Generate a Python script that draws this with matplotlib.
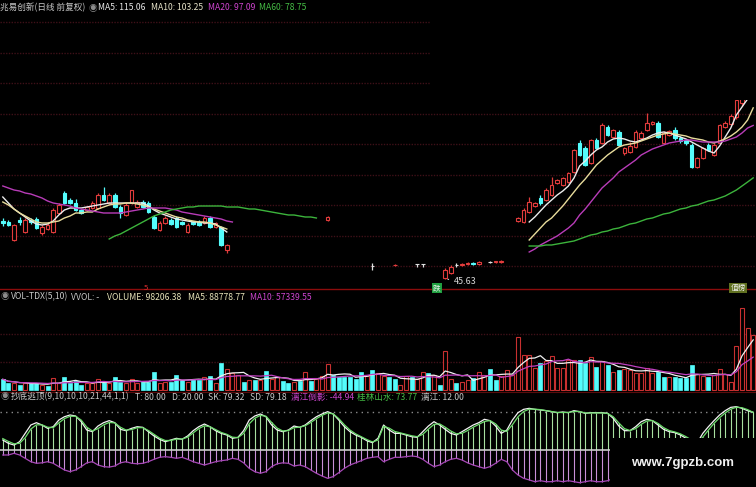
import numpy as np
import pandas as pd
import matplotlib
matplotlib.use('Agg')
import matplotlib.pyplot as plt
from matplotlib.patches import Rectangle
from matplotlib.lines import Line2D

nan = float('nan')
W, H = 756, 487

# ---------------- price data (index 0..134) ----------------
OPEN = ([63.65, 63.3, 57.0, 64.0, 59.8, 64.0, 64.35, 59.45, 60.85, 59.8, 66.45, 73.45, 71.0, 69.95, 67.5,
         67.5, 68.2, 68.2, 72.75, 69.95, 72.75, 68.55, 65.75, 69.95, 68.55, 70.3, 69.95, 65.05, 60.5, 62.95,
         64.0, 64.7, 63.3, 59.8, 63.3, 63.3, 62.95, 64.7, 61.55, 61.55, 53.5]
        + [nan] * 17 + [64.0] + [nan] * 7 + [47.9] + [nan] * 3 + [48.1] + [nan] * 3 + [48.6, 48.6]
        + [nan] * 3 + [43.7, 45.45, 48.25, 48.25, 48.6, 48.95, 48.6] + [nan] + [49.3, 49.3, 49.3] + [nan] * 2
        + [63.65, 63.3, 66.8, 68.9, 71.7, 71.0, 72.75, 76.95, 76.25, 77.3, 80.8, 90.95, 89.2, 83.95, 92.0,
           90.95, 96.55, 93.05, 94.8, 87.45, 87.8, 89.55, 92.7, 95.5, 97.6, 97.95, 90.95, 93.75, 95.5, 92.7,
           92.0, 90.25, 82.55, 85.7, 90.25, 86.75, 90.95, 96.55, 97.6, 100.0, 105.0, 111.0, 115.0])
CLOSE = ([62.95, 62.25, 62.25, 63.3, 64.0, 63.3, 61.2, 61.55, 62.25, 67.5, 69.25, 69.95, 69.95, 67.5, 66.45,
          68.55, 69.95, 72.75, 71.0, 72.75, 68.55, 66.45, 69.25, 74.5, 70.3, 68.55, 66.8, 61.2, 62.95, 64.7,
          62.6, 61.55, 62.6, 62.25, 62.6, 62.25, 64.7, 61.55, 62.95, 55.25, 55.25]
         + [nan] * 17 + [65.05] + [nan] * 7 + [47.9] + [nan] * 3 + [48.4] + [nan] * 3 + [48.6, 48.6]
         + [nan] * 3 + [46.5, 47.55, 48.25, 48.6, 48.95, 48.6, 49.3] + [nan] + [49.3, 49.65, 49.65] + [nan] * 2
         + [64.7, 67.5, 70.3, 69.95, 69.95, 74.5, 76.25, 78.0, 78.7, 80.45, 88.5, 86.75, 83.25, 92.0, 89.2,
            97.25, 93.75, 95.5, 90.25, 89.2, 89.9, 94.8, 94.45, 97.95, 98.3, 93.05, 94.45, 95.15, 92.7, 91.65,
            90.95, 82.55, 85.7, 89.2, 88.5, 90.25, 97.25, 97.95, 100.4, 106.0, 112.0, 117.0, 121.0])
HIGH = ([64.7, 64.0, 62.6, 65.05, 64.7, 64.7, 65.05, 62.25, 62.95, 68.2, 69.95, 74.15, 71.7, 71.35, 67.85,
         68.9, 70.65, 73.45, 75.55, 73.45, 73.45, 69.25, 69.95, 74.5, 71.0, 71.0, 70.65, 65.75, 63.65, 65.4,
         64.7, 65.4, 63.65, 62.95, 63.65, 64.0, 65.4, 65.4, 63.3, 61.9, 55.6]
        + [nan] * 17 + [65.4] + [nan] * 7 + [48.95] + [nan] * 3 + [48.6] + [nan] * 3 + [48.6, 48.6]
        + [nan] * 3 + [47.2, 48.25, 48.95, 48.95, 49.3, 49.3, 49.65] + [nan] + [49.65, 49.8, 50.0] + [nan] * 2
        + [65.05, 68.2, 72.05, 70.3, 72.75, 75.2, 79.05, 78.35, 79.05, 80.8, 88.85, 92.0, 89.9, 92.35, 92.7,
           97.95, 97.25, 95.85, 95.5, 89.55, 91.3, 95.5, 95.15, 101.45, 98.65, 98.65, 95.15, 95.5, 96.55, 93.4,
           92.35, 90.95, 86.05, 89.55, 90.95, 90.95, 97.6, 98.65, 101.0, 107.0, 114.0, 119.0, 124.0])
LOW = ([61.9, 61.9, 56.65, 62.25, 59.45, 62.6, 60.85, 58.75, 60.5, 59.45, 66.1, 69.6, 69.6, 67.15, 66.1,
        67.15, 67.85, 67.85, 70.65, 69.6, 68.2, 64.7, 65.4, 69.6, 68.2, 68.2, 66.45, 60.85, 60.15, 62.6,
        62.25, 61.2, 62.25, 59.45, 62.25, 61.9, 62.6, 61.2, 61.2, 54.9, 52.45]
       + [nan] * 17 + [63.65] + [nan] * 7 + [46.5] + [nan] * 3 + [47.9] + [nan] * 3 + [47.55, 47.55]
       + [nan] * 3 + [43.35, 45.1, 47.55, 47.9, 48.25, 48.25, 48.25] + [nan] + [48.8, 49.0, 49.0] + [nan] * 2
       + [63.3, 62.95, 66.45, 68.55, 69.25, 70.65, 72.4, 76.6, 75.9, 76.95, 80.45, 86.4, 82.9, 83.6, 88.85,
          90.6, 93.4, 92.7, 89.9, 86.75, 87.45, 89.2, 92.35, 95.15, 97.25, 92.7, 90.6, 93.4, 92.0, 90.95,
          90.25, 82.2, 82.2, 85.35, 88.15, 86.4, 90.6, 96.2, 97.2, 99.5, 104.0, 110.0, 114.0])

MA5 = ([72.05, 69.95, 67.85, 66.45, 65.05, 63.65, 62.6, 62.25, 62.6, 63.65, 65.75, 67.5, 68.2, 68.2, 68.2,
        68.55, 68.9, 69.25, 69.6, 69.95, 69.95, 69.95, 69.95, 69.95, 69.95, 69.95, 68.9, 67.5, 66.45, 65.75,
        65.05, 64.35, 64.0, 63.65, 63.3, 63.3, 62.95, 62.95, 62.6, 61.2, 59.8]
       + [nan] * 53
       + [63.3, 65.05, 67.15, 69.25, 71.0, 72.75, 74.15, 75.9, 78.7, 82.9, 84.65, 86.75, 88.5, 89.55, 91.3,
          92.35, 92.7, 92.35, 91.65, 91.3, 92.0, 92.7, 93.75, 94.45, 94.8, 94.45, 93.75, 93.05, 92.35, 91.3,
          90.25, 89.2, 88.15, 87.45, 89.9, 93.05, 96.2, 100.75, 103.55, 106.35, 115.06])
MA10 = ([70.3, 69.25, 67.85, 66.45, 65.4, 64.35, 63.3, 62.95, 62.95, 63.3, 63.65, 64.7, 65.4, 66.45, 66.45,
         66.8, 66.8, 67.85, 68.55, 69.25, 69.6, 69.6, 69.95, 69.95, 69.6, 69.25, 68.55, 67.85, 67.15, 66.45,
         65.75, 65.05, 64.7, 64.0, 63.65, 63.3, 63.3, 62.95, 62.25, 61.55, 60.85]
        + [nan] * 53
        + [57.0, 59.1, 61.2, 63.3, 64.7, 66.8, 68.9, 71.35, 73.8, 76.25, 78.35, 80.8, 83.25, 85.0, 86.75,
           88.15, 89.55, 90.25, 90.6, 90.95, 91.65, 92.35, 93.05, 93.75, 94.1, 94.45, 94.1, 93.75, 93.4, 92.7,
           92.35, 92.0, 91.3, 90.95, 91.65, 92.35, 93.4, 94.8, 96.55, 99.0, 103.25])
MA20 = ([75.9, 75.2, 74.5, 74.15, 73.45, 73.1, 72.4, 71.7, 70.65, 69.95, 69.6, 69.25, 68.9, 68.2, 67.85,
         67.5, 67.15, 66.8, 66.45, 66.45, 66.45, 66.45, 66.8, 67.15, 67.5, 67.85, 68.2, 68.2, 68.2, 68.2,
         67.85, 67.5, 66.8, 66.45, 66.1, 65.75, 65.4, 65.05, 64.7, 64.35, 63.65, 63.3]
        + [nan] * 52
        + [52.8, 53.85, 55.25, 56.3, 57.35, 58.4, 59.8, 61.2, 62.95, 65.75, 67.85, 70.3, 72.75, 75.2, 76.95,
           78.7, 80.8, 82.2, 83.6, 85.0, 86.75, 87.8, 88.85, 89.55, 90.25, 90.95, 91.3, 91.65, 92.0, 92.0,
           91.65, 91.3, 91.3, 91.3, 91.3, 91.65, 92.35, 93.05, 94.45, 96.2, 97.09])
MA60 = ([nan] * 19
        + [57.35, 58.4, 59.1, 60.15, 61.2, 62.25, 63.3, 64.35, 65.4, 66.1, 66.8, 67.5, 67.85, 68.2, 68.55,
           68.55, 68.9, 68.9, 68.9, 68.9, 68.9, 68.55, 68.55, 68.55, 68.2, 67.85, 67.85, 67.5, 67.15, 66.8,
           66.45, 66.1, 65.75, 65.75, 65.4, 65.05, 65.05, 64.7]
        + [nan] * 37
        + [54.9, 54.9, 54.9, 55.25, 55.25, 55.6, 55.95, 56.3, 56.65, 57.35, 58.05, 58.75, 59.1, 59.8, 60.15,
           60.85, 61.2, 61.9, 62.6, 62.95, 63.65, 64.35, 64.7, 65.4, 66.1, 66.45, 67.15, 67.85, 68.2, 68.9,
           69.25, 69.95, 70.65, 71.0, 71.7, 72.4, 73.45, 74.5, 75.9, 77.3, 78.75])

# ---------------- volume (thousands of lots) ----------------
VOLUME = [19.1, 11.9, 13.1, 8.9, 11.9, 11.9, 11.9, 8.9, 7.1, 20.8, 13.1, 22.6, 13.1, 16.7, 8.9,
          11.9, 11.9, 19.1, 14.9, 11.9, 23.8, 14.9, 11.9, 19.1, 11.9, 14.9, 14.9, 32.7, 11.9, 14.9,
          14.9, 26.8, 17.9, 14.9, 19.1, 17.9, 22.6, 25.0, 11.9, 48.8, 36.9, 29.8, 26.8, 14.9, 17.9,
          17.9, 17.9, 33.9, 19.1, 22.6, 16.1, 13.1, 14.9, 16.1, 32.7, 16.7, 19.1, 25.0, 46.4, 26.8,
          22.6, 22.6, 22.6, 19.1, 32.7, 25.0, 35.7, 29.8,
          25.0, 22.6, 19.1, 8.9, 25.0, 22.6, 19.1, 32.7, 31.0, 26.8, 8.9, 70.2, 19.1, 13.1, 14.9,
          17.9, 20.8, 32.7, 26.8, 36.9, 17.9, 25.0, 35.7, 26.8, 95.3, 62.5, 62.5, 38.7, 47.6, 52.4,
          60.7, 38.7, 38.7, 53.6, 53.6, 53.6, 48.8, 58.3, 41.7, 52.4, 44.7, 32.7, 35.7, 36.9, 35.7,
          31.0, 31.0, 38.7, 31.0, 32.7, 22.6, 22.6, 22.6, 20.8, 20.8, 44.7, 28.6, 25.0, 22.6, 26.8,
          36.9, 28.6, 14.9, 78.6, 145.9, 110.1, 98.2]
VOL_DIR = ("ccrcrccrcr" "rccccrrrcr" "ccrrrcccrr" "cccrccrcrc" "rrrcrcrcrr" "ccrcrcrrrc" "cccccrcr"
           "rccrrcrrcr" "crrcrrcrrc" "crrrrrrrcr" "rrrrrccrcr" "crcrrrrrrc" "crccccrrcr" "rrrrrrr")

# ---------------- indicator 抄底逃顶 ----------------
SK = [21, 14, 10.5, 17.5, 35, 52.6, 57.5, 52.6, 45.6, 49, 63, 70, 73.7, 71.6, 59.6, 42, 38.6, 50.5, 57.5,
      61.8, 57.5, 43.5, 40.7, 45.6, 49, 47.7, 38.6, 29.5, 22.5, 17.5, 21, 24.6, 22.5, 29.5, 40.7, 49, 54.7,
      49, 40.7, 35, 31.6, 24.6, 26.7, 40.7, 63, 71.6, 75.8, 70, 52.6, 42, 38.6, 42, 50.5, 47.7, 52.6, 61.8,
      70, 75.8, 80.7, 75.8, 63, 49, 38.6, 31.6, 26.7, 19.6, 15.4, 24.6,
      52.6, 42, 35, 35, 31.6, 28, 26.7, 38.6, 50.5, 59.6, 52.6, 43.5, 35, 31.6, 38.6, 45.6, 52.6, 57.5,
      64.6, 61.8, 50.5, 35, 42, 63, 78.6, 85.6, 87.7, 85.6, 84.2, 82.8, 80.7, 78.6, 80, 78.6, 82.8, 80.7,
      77.2, 78.6, 78.6, 78.6, 77.2, 66.7, 50.5, 40.7, 40.7, 49, 59.6, 64.6, 61.8, 52.6, 43.5, 38.6, 36.5,
      31.6, 24.6, 18, 15, 35, 49, 61.8, 73.7, 82.8, 89.8, 91.2, 87.7, 82.8, 79.32]
SD = [24, 18, 13, 14, 26, 44, 53, 53, 48, 47, 57, 66, 71, 71, 63, 48, 40, 45, 53, 58, 57, 48, 42, 43, 47,
      47, 41, 33, 25, 20, 20, 23, 23, 27, 36, 45, 51, 49, 43, 37, 33, 27, 26, 35, 55, 67, 73, 71, 58, 46,
      40, 41, 47, 48, 51, 58, 66, 73, 78, 76, 66, 53, 42, 34, 28, 22, 17, 21,
      50, 46, 39, 36, 33, 30, 28, 33, 44, 54, 55, 48, 40, 34, 35, 41, 48, 54, 60, 62, 55, 42, 39, 53, 70,
      81, 86, 86, 85, 83, 81, 79, 79, 79, 81, 81, 78, 78, 78, 78, 77, 70, 57, 45, 41, 45, 54, 61, 62, 56,
      47, 41, 38, 34, 28, 21, 17, 27, 42, 56, 68, 78, 86, 90, 89, 85, 79.18]
LIJIANG_REFLECT = [-10.5, -10.5, -7, -10.5, -17.5, -24.6, -28, -27, -24.6, -28, -35, -42, -45.6, -42, -35,
                   -27, -24.6, -31.6, -35, -36, -33.7, -27, -24.6, -28, -29, -28, -24.6, -19.6, -15.4, -14,
                   -15.4, -17.5, -15.4, -19.6, -24.6, -28, -31.6, -28, -24.6, -22.5, -21, -17.5, -19.6, -27,
                   -38.6, -45.6, -49, -45.6, -35, -29, -27, -28, -33.7, -31.6, -35, -42, -49, -54.7, -59.6,
                   -56, -47.7, -38.6, -31.6, -27, -22.5, -17.5, -15.4, -14,
                   -24.6, -19.6, -15.4, -15.4, -14, -12.6, -14, -19.6, -28, -35, -31.6, -24.6, -19.6, -17.5,
                   -21, -27, -31.6, -35, -38.6, -35, -28, -19.6, -24.6, -42, -52.6, -59.6, -63, -66.7, -64.6,
                   -66.7, -66.7, -64.6, -66.7, -64.6, -66.7, -68.8, -66.7, -64.6, -66.7, -66.7, -64.6,
                   -60, -48, -38, -36, -42, -50, -54, -52, -45, -38, -34, -31, -28, -24, -20, -18, -26, -35,
                   -44, -52, -58, -62, -60, -56, -50, -44.94]

N = len(VOLUME)
for arr in (OPEN, CLOSE, HIGH, LOW, MA5, MA10, MA20, MA60, SK, SD, LIJIANG_REFLECT):
    assert len(arr) == N, len(arr)
assert len(VOL_DIR) == N

# ---------------- styling ----------------
plt.rcParams['font.family'] = ['Liberation Sans Narrow', 'Noto Sans CJK SC', 'DejaVu Sans']
RED = '#e23c3c'
CYAN = '#54fcfc'
GRID = '#3e1018'
BG = 'black'

fig = plt.figure(figsize=(W / 100, H / 100), dpi=100, facecolor=BG)


def fy(py):
    return 1 - py / H


ax_p = fig.add_axes([0, fy(288), 1, 288 / H])
ax_v = fig.add_axes([0, fy(392), 1, 103 / H])
ax_i = fig.add_axes([0, 0, 1, 95 / H])
for ax in (ax_p, ax_v, ax_i):
    ax.set_facecolor(BG)
    ax.set_xlim(-0.5, N - 0.5)
    ax.axis('off')

x = np.arange(N)
o = np.array(OPEN); c = np.array(CLOSE); hi = np.array(HIGH); lo = np.array(LOW)

# ---- price panel ----
ax_p.set_ylim(40.2, 141)
for k in range(9):
    yp = 22 + 30.5 * k
    ax_p.axhline(141 - 0.35 * yp, color=GRID, lw=1.0, ls=(0, (1, 1)), zorder=0)

valid = ~np.isnan(o)
up = valid & (c > o)
dn = valid & (c < o)
eq = valid & (c == o)
for mask, col, face in ((up, RED, BG), (dn, CYAN, CYAN), (eq, '#e0e0e0', '#e0e0e0')):
    ax_p.vlines(x[mask], lo[mask], hi[mask], color=col, lw=0.9, zorder=2)
    body = np.maximum(np.abs(c[mask] - o[mask]), 0.12)
    ax_p.bar(x[mask], body, bottom=np.minimum(o[mask], c[mask]), width=0.66,
             facecolor=face, edgecolor=col, lw=0.8, zorder=3)

ax_p.plot(x, MA5, color='#ececec', lw=1.0, zorder=4)
ax_p.plot(x, MA10, color='#e8dc9c', lw=1.0, zorder=4)
ax_p.plot(x, MA20, color='#b83cb8', lw=1.0, zorder=4)
ax_p.plot(x, MA60, color='#3cb43c', lw=1.0, zorder=4)

# blank upper-right region
ax_p.add_patch(Rectangle((430 / W, 1 - 100 / 288), 1, 100 / 288, transform=ax_p.transAxes,
                         facecolor=BG, edgecolor='none', zorder=8))

# lowest price marker
imin = int(np.nanargmin(lo))
ax_p.annotate('45.63', xy=(imin, lo[imin]), xytext=(imin + 1.6, lo[imin] - 0.8),
              color='#d8d8d8', fontsize=6.5, va='center', ha='left',
              arrowprops=dict(arrowstyle='-', color='#d8d8d8', lw=0.8), zorder=9)

# ---- volume panel ----
ax_v.set_ylim(-3.57, 180.4)
for gv in (50, 100):
    ax_v.axhline(gv, color=GRID, lw=1.0, ls=(0, (1, 1)), zorder=0)
vol = np.array(VOLUME)
vup = np.array([d == 'r' for d in VOL_DIR])
ax_v.bar(x[vup], vol[vup], width=0.68, facecolor=BG, edgecolor='#c83030', lw=0.8, zorder=2)
ax_v.bar(x[~vup], vol[~vup], width=0.68, facecolor=CYAN, edgecolor=CYAN, lw=0.5, zorder=2)
vs = pd.Series(vol)
ax_v.plot(x, vs.rolling(5, min_periods=1).mean(), color='#f0f0f0', lw=0.9, zorder=3)
ax_v.plot(x, vs.rolling(10, min_periods=1).mean(), color='#c040c0', lw=0.9, zorder=3)

# ---- indicator panel ----
ax_i.set_ylim(-77.9, 122.1)
ax_i.axhline(80, color='#8a8a8a', lw=1.0, ls=(0, (1, 3)), zorder=1)
ax_i.vlines(x, 0, SD, color='#a8e0a0', lw=0.8, zorder=2)
ax_i.vlines(x, LIJIANG_REFLECT, 0, color='#c890d8', lw=0.8, zorder=2)
ax_i.plot(x, SK, color='#f4f4f4', lw=0.9, zorder=3)
ax_i.plot(x, SD, color='#6cdc6c', lw=0.9, zorder=3)
ax_i.plot(x, LIJIANG_REFLECT, color='#a848b8', lw=0.9, zorder=3)
ax_i.axhline(0, color='#d8d8d8', lw=1.1, zorder=4)
ax_i.add_patch(Rectangle((610 / W, 0), 1, (487 - 438) / 95, transform=ax_i.transAxes,
                         facecolor=BG, edgecolor='none', zorder=10))
ax_i.text(683 / W, (487 - 463) / 95, 'www.7gpzb.com', transform=ax_i.transAxes, color='#f0f0f0',
          fontsize=9.5, fontweight='bold', family=['Liberation Sans', 'DejaVu Sans'],
          ha='center', va='center', zorder=11)

# ---- separators ----
fig.add_artist(Line2D([0, 1], [fy(288.5)] * 2, color='#8c0c0c', lw=1.0))
fig.add_artist(Line2D([0, 1], [fy(391.5)] * 2, color='#5a0c0c', lw=0.8))
fig.text(146 / W, fy(288), '5', color='#e03030', fontsize=5.5, ha='center', va='center')
fig.text(437 / W, fy(288), '跌', color='#f0f0f0', fontsize=5.5, ha='center', va='center',
         bbox=dict(boxstyle='square,pad=0.12', facecolor='#20a040', edgecolor='none'))
fig.text(738 / W, fy(288), '值榜', color='#f0f0f0', fontsize=5.5, ha='center', va='center',
         bbox=dict(boxstyle='square,pad=0.12', facecolor='#607020', edgecolor='none'))

# ---- titles ----
FS = 6.2


def t(px, py, s, col):
    fig.text(px / W, fy(py), s, color=col, fontsize=FS, ha='left', va='center')


t(0, 8, '兆易创新(日线 前复权)', '#c8c8c8')
t(89, 8, '◉', '#8c8c8c')
t(98, 8, 'MA5: 115.06', '#e6e6e6')
t(151, 8, 'MA10: 103.25', '#e6e2c8')
t(208, 8, 'MA20: 97.09', '#cc44cc')
t(259, 8, 'MA60: 78.75', '#44bb44')

t(1, 297, '◉', '#8c8c8c')
t(11, 297, 'VOL-TDX(5,10)', '#c8c8c8')
t(71, 297, 'VVOL: -', '#c8c8c8')
t(107, 297, 'VOLUME: 98206.38', '#e6e2b8')
t(188, 297, 'MA5: 88778.77', '#e6e2b8')
t(250, 297, 'MA10: 57339.55', '#cc44cc')

t(1, 397, '◉', '#8c8c8c')
t(11, 397, '抄底逃顶(9,10,10,10,21,44,1,1)', '#c8c8c8')
t(135, 397, 'T: 80.00', '#c8c8c8')
t(172, 397, 'D: 20.00', '#c8c8c8')
t(208, 397, 'SK: 79.32', '#c8c8c8')
t(250, 397, 'SD: 79.18', '#c8c8c8')
t(291, 397, '漓江倒影: -44.94', '#cc44cc')
t(357, 397, '桂林山水: 73.77', '#44bb44')
t(421, 397, '漓江: 12.00', '#c8c8c8')

fig.savefig('out.png', dpi=100, facecolor=BG)
